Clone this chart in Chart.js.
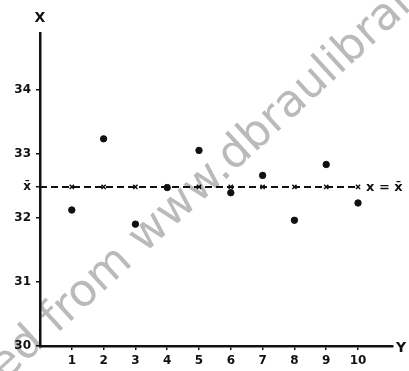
<!DOCTYPE html>
<html>
<head>
<meta charset="utf-8">
<script src="https://cdn.jsdelivr.net/npm/chart.js@4"></script>
<style>
  html, body { margin: 0; padding: 0; background: #fff; }
  canvas { display: block; }
</style>
</head>
<body>
<canvas id="chart" width="409" height="371"></canvas>
<script>
// sample number (horizontal axis) and observed value (vertical axis)
const sampleNos = [1, 2, 3, 4, 5, 6, 7, 8, 9, 10];
const observed = [32.12, 33.23, 31.90, 32.47, 33.05, 32.39, 32.66, 31.96, 32.83, 32.23];
const meanValue = 32.48;
const meanLineX = [0, 1, 2, 3, 4, 5, 6, 7, 8, 9, 10];
const yTicks = [30, 31, 32, 33, 34];

const FONT = '"DejaVu Sans", sans-serif';

const extras = {
  id: 'extras',
  beforeDraw: (chart) => {
    const ctx = chart.ctx;
    ctx.save();
    ctx.fillStyle = '#fff';
    ctx.fillRect(0, 0, chart.width, chart.height);
    // faint scan watermark
    ctx.translate(10, 377);
    ctx.rotate(-42.5 * Math.PI / 180);
    ctx.font = '45px ' + FONT;
    ctx.filter = 'blur(0.7px)';
    ctx.fillStyle = 'rgba(140,140,140,0.6)';
    ctx.textBaseline = 'alphabetic';
    ctx.fillText('ded from www.dbraulibrary.org', -36, 0);
    ctx.restore();
  },
  afterDraw: (chart) => {
    const ctx = chart.ctx;
    const x = chart.scales.x;
    const y = chart.scales.y;
    const area = chart.chartArea;
    ctx.save();
    ctx.fillStyle = '#111';
    ctx.font = 'bold 14px ' + FONT;
    ctx.textAlign = 'center';
    ctx.textBaseline = 'middle';
    ctx.fillText('X', area.left, 18);
    ctx.fillText('Y', 401, area.bottom + 2);
    ctx.textAlign = 'left';
    ctx.font = 'bold 13px ' + FONT;
    ctx.fillText('x = x\u0304', x.getPixelForValue(10) + 8, y.getPixelForValue(meanValue) + 1);
    ctx.restore();
  }
};

new Chart(document.getElementById('chart'), {
  type: 'scatter',
  data: {
    datasets: [
      {
        label: 'observed',
        data: sampleNos.map((n, i) => ({ x: n, y: observed[i] })),
        backgroundColor: '#111',
        borderColor: '#111',
        pointRadius: 3.2,
        pointStyle: 'circle'
      },
      {
        label: 'mean',
        type: 'line',
        data: meanLineX.map((n) => ({ x: n, y: meanValue })),
        borderColor: '#111',
        borderWidth: 2,
        borderDash: [7, 4],
        pointStyle: 'crossRot',
        pointRadius: meanLineX.map((n) => (n === 0 ? 0 : 3)),
        pointBorderColor: '#111',
        pointBorderWidth: 1.5,
        fill: false
      }
    ]
  },
  options: {
    responsive: false,
    animation: false,
    layout: { padding: { top: 33, right: 16, left: 0, bottom: 0 } },
    plugins: { legend: { display: false }, tooltip: { enabled: false }, title: { display: false } },
    scales: {
      x: {
        type: 'linear',
        min: 0,
        max: 11.1,
        afterBuildTicks: (s) => { s.ticks = sampleNos.map((v) => ({ value: v })); },
        afterFit: (s) => { s.height = 25; },
        border: { display: true, color: '#111', width: 2.5 },
        grid: { display: true, drawOnChartArea: false, drawTicks: true, tickLength: 4, color: '#111', lineWidth: 1.5 },
        ticks: {
          color: '#111',
          font: { family: FONT, size: 12, weight: 'bold' },
          padding: 4,
          maxRotation: 0,
          autoSkip: false
        }
      },
      y: {
        type: 'linear',
        min: 30,
        max: 34.88,
        afterBuildTicks: (s) => {
          s.ticks = yTicks.concat([meanValue]).sort((a, b) => a - b).map((v) => ({ value: v }));
        },
        afterFit: (s) => { s.width = 40; },
        border: { display: true, color: '#111', width: 2.5 },
        grid: { display: true, drawOnChartArea: false, drawTicks: true, tickLength: 4, color: '#111', lineWidth: 1.5 },
        ticks: {
          color: '#111',
          font: { family: FONT, size: 12, weight: 'bold' },
          padding: 5,
          autoSkip: false,
          callback: (v) => (v === meanValue ? 'x\u0304' : v)
        }
      }
    }
  },
  plugins: [extras]
});
</script>
</body>
</html>
